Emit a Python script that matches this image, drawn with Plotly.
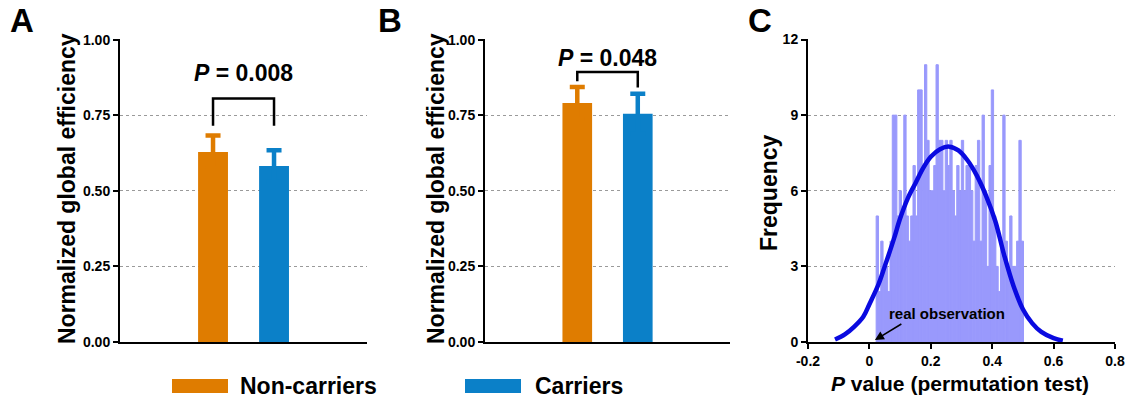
import plotly.graph_objects as go

# ---------------- data ----------------
groups = ["Non-carriers", "Carriers"]
bar_pos = [1, 2]
a_means = [0.628, 0.582]
a_errs = [0.055, 0.052]
b_means = [0.790, 0.755]
b_errs = [0.053, 0.066]
a_pval = "0.008"
b_pval = "0.048"

hist_start = 0.022
hist_binw = 0.0075
hist_counts = [5, 2, 4, 3, 3, 2, 4, 9, 9, 5, 6, 5, 9, 5, 4, 5,
               7, 5, 10, 10, 7, 11, 8, 6, 6, 7, 11, 8, 8, 6, 8, 7,
               8, 6, 5, 7, 6, 8, 6, 7, 7, 6, 4, 7, 8, 4, 9, 6,
               3, 7, 10, 5, 3, 2, 4, 9, 4, 3, 5, 3, 3, 4, 8, 4]

curve_x = [-0.112, -0.08, -0.05, -0.02, 0.0, 0.03, 0.05, 0.08, 0.10, 0.125,
           0.15, 0.175, 0.20, 0.23, 0.26, 0.29, 0.32, 0.35, 0.38, 0.41,
           0.44, 0.47, 0.50, 0.53, 0.56, 0.60, 0.63]
curve_y = [0.1, 0.3, 0.6, 1.0, 1.5, 2.3, 3.0, 4.1, 4.9, 5.7,
           6.3, 6.9, 7.35, 7.65, 7.75, 7.6, 7.2, 6.6, 5.8, 4.8,
           3.4, 2.2, 1.3, 0.75, 0.4, 0.15, 0.05]

ORANGE = "#DF7C00"
BLUE = "#0B80C8"
HIST = "#9999FC"
CURVE = "#0A0AE0"
FONT = "Liberation Sans, Arial, sans-serif"

fig = go.Figure()

# bar panels (symmetric error bars; the lower half is hidden inside the bar)
for means, errs, xa, ya in [(a_means, a_errs, "x", "y"), (b_means, b_errs, "x2", "y2")]:
    for i, (m, e, c) in enumerate(zip(means, errs, [ORANGE, BLUE])):
        fig.add_trace(go.Bar(
            x=[bar_pos[i]], y=[m], width=0.49, marker_color=c, marker_line_width=0,
            error_y=dict(type="data", symmetric=True, array=[e],
                         color=c, thickness=4.5, width=7.5),
            name=groups[i], showlegend=False, xaxis=xa, yaxis=ya))

# histogram panel
centers = [hist_start + hist_binw * (i + 0.5) for i in range(len(hist_counts))]
fig.add_trace(go.Bar(x=centers, y=hist_counts, width=hist_binw, marker_color=HIST,
                     marker_line=dict(color=HIST, width=1), showlegend=False,
                     xaxis="x3", yaxis="y3"))
fig.add_trace(go.Scatter(x=curve_x, y=curve_y, mode="lines",
                         line=dict(color=CURVE, width=4.5, shape="spline"),
                         showlegend=False, xaxis="x3", yaxis="y3"))

ydom = [1 - 342 / 401, 1 - 39 / 401]
tickfont = dict(family=FONT, size=14, color="black", weight="bold")
common_y = dict(showline=True, linecolor="black", linewidth=2, ticks="outside", ticklen=5,
                tickwidth=2, tickcolor="black", showgrid=True, gridcolor="#9a9a9a",
                griddash="dot", gridwidth=1, zeroline=False, tickfont=tickfont, domain=ydom,
                automargin=False)
bar_x = dict(showline=True, linecolor="black", linewidth=2, showticklabels=False, ticks="",
             showgrid=False, zeroline=False, range=[-0.525, 3.524], automargin=False)

fig.update_layout(
    width=1127, height=401, margin=dict(l=0, r=0, t=0, b=0, pad=0, autoexpand=False),
    autosize=False, showlegend=False,
    plot_bgcolor="white", paper_bgcolor="white", barmode="overlay",
    font=dict(family=FONT, color="black"),
    xaxis=dict(domain=[120 / 1127, 367 / 1127], **bar_x),
    xaxis2=dict(domain=[485 / 1127, 730 / 1127], **bar_x),
    xaxis3=dict(domain=[808 / 1127, 1115 / 1127], range=[-0.2, 0.8],
                tickvals=[-0.2, 0, 0.2, 0.4, 0.6, 0.8],
                ticktext=["-0.2", "0", "0.2", "0.4", "0.6", "0.8"],
                showline=True, linecolor="black", linewidth=2, ticks="outside", ticklen=5,
                tickwidth=2, tickcolor="black", showgrid=False, zeroline=False,
                tickfont=tickfont, automargin=False),
    yaxis=dict(range=[0, 1.002], tickvals=[0, 0.25, 0.5, 0.75, 1.0],
               ticktext=["0.00", "0.25", "0.50", "0.75", "1.00"], anchor="x", **common_y),
    yaxis2=dict(range=[0, 1.002], tickvals=[0, 0.25, 0.5, 0.75, 1.0],
                ticktext=["0.00", "0.25", "0.50", "0.75", "1.00"], anchor="x2", **common_y),
    yaxis3=dict(range=[0, 12.02], tickvals=[0, 3, 6, 9, 12], anchor="x3", **common_y),
)

# significance brackets
shapes = []
for xa, ya, means, errs, lift_l, lift_r, top in [
        ("x", "y", a_means, a_errs, 0.032, 0.081, 0.805),
        ("x2", "y2", b_means, b_errs, 0.019, 0.021, 0.893)]:
    yl = means[0] + errs[0] + lift_l
    yr = means[1] + errs[1] + lift_r
    shapes.append(dict(type="path", xref=xa, yref=ya,
                       path=f"M {bar_pos[0]},{yl} L {bar_pos[0]},{top} L {bar_pos[1]},{top} L {bar_pos[1]},{yr}",
                       line=dict(color="black", width=2.5)))

# legend patches
shapes.append(dict(type="rect", xref="paper", yref="paper", x0=172 / 1127, x1=228 / 1127,
                   y0=1 - 393 / 401, y1=1 - 379 / 401, fillcolor=ORANGE, line_width=0))
shapes.append(dict(type="rect", xref="paper", yref="paper", x0=465 / 1127, x1=521 / 1127,
                   y0=1 - 393 / 401, y1=1 - 379 / 401, fillcolor=BLUE, line_width=0))
fig.update_layout(shapes=shapes)

C = dict(xanchor="center", yanchor="middle", showarrow=False)
ann = []
ann.append(dict(text=f"<b><i>P</i> = {a_pval}</b>", x=1.5, y=0.888, xref="x", yref="y",
                font=dict(size=23), **C))
ann.append(dict(text=f"<b><i>P</i> = {b_pval}</b>", x=1.5, y=0.94, xref="x2", yref="y2",
                font=dict(size=23), **C))
for t, x in [("A", 22), ("B", 390), ("C", 760)]:
    ann.append(dict(text=f"<b>{t}</b>", x=x / 1127, y=1 - 21 / 401, xref="paper", yref="paper",
                    font=dict(size=33), **C))
for x in [67, 436]:
    ann.append(dict(text="<b>Normalized global efficiency</b>", x=x / 1127, y=1 - 189 / 401,
                    xref="paper", yref="paper", textangle=-90, font=dict(size=23), **C))
ann.append(dict(text="<b>Frequency</b>", x=769 / 1127, y=1 - 193 / 401, xref="paper", yref="paper",
                textangle=-90, font=dict(size=23), **C))
ann.append(dict(text="<b><i>P</i> value (permutation test)</b>", x=960 / 1127, y=1 - 383 / 401,
                xref="paper", yref="paper", font=dict(size=21), **C))
ann.append(dict(text="<b>real observation</b>", x=0.253, y=1.14, xref="x3", yref="y3",
                font=dict(size=15), **C))
ann.append(dict(text="", x=0.018, y=0.08, ax=0.109, ay=0.75, xref="x3", yref="y3",
                axref="x3", ayref="y3", showarrow=True, arrowhead=2, arrowsize=1.2,
                arrowwidth=1.5, arrowcolor="black"))
ann.append(dict(text="<b>Non-carriers</b>", x=238 / 1127, y=1 - 386 / 401, xref="paper", yref="paper",
                xanchor="left", yanchor="middle", showarrow=False, font=dict(size=23)))
ann.append(dict(text="<b>Carriers</b>", x=533 / 1127, y=1 - 386 / 401, xref="paper", yref="paper",
                xanchor="left", yanchor="middle", showarrow=False, font=dict(size=23)))
fig.update_layout(annotations=ann)

fig.write_html("out.html", config={"displayModeBar": False},
               post_script="document.body.style.margin='0';")
